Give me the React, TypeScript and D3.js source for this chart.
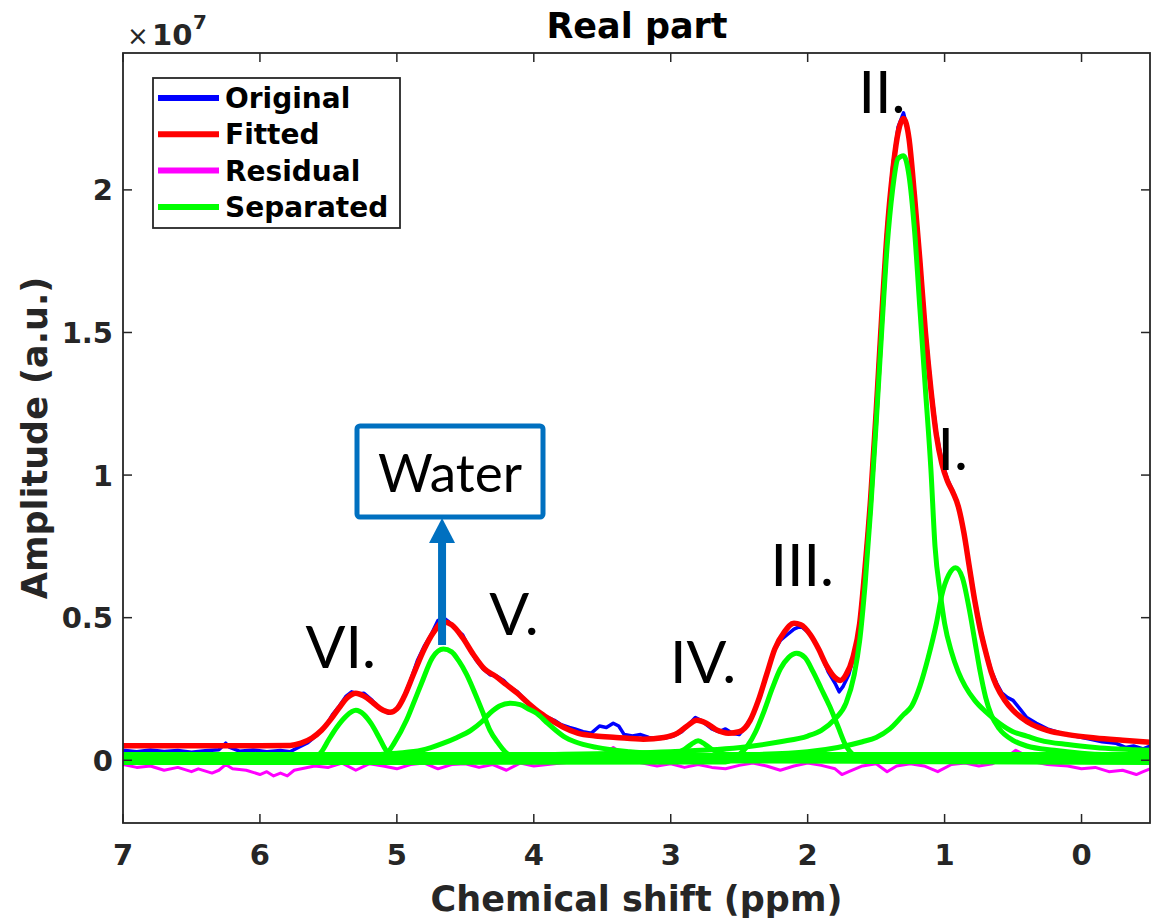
import React from 'react';
import * as d3 from 'd3';

// ---------- data (amplitude in units of 1e7, chemical shift in ppm) ----------
const xTicks = [7, 6, 5, 4, 3, 2, 1, 0];
const yTicks = [0, 0.5, 1, 1.5, 2];
const yTickLabels = ['0', '0.5', '1', '1.5', '2'];
const xDomain = [7, -0.5];
const yDomain = [-0.22, 2.48];

const fitted: [number, number][] = [
  [7.0, 0.051], [6.5, 0.051], [6.0, 0.051], [5.78, 0.052], [5.7, 0.06], [5.62, 0.078], [5.55, 0.105],
  [5.48, 0.145], [5.42, 0.185], [5.36, 0.22], [5.3, 0.235], [5.24, 0.225], [5.17, 0.2], [5.1, 0.175],
  [5.05, 0.168], [5.0, 0.18], [4.95, 0.22], [4.88, 0.3], [4.8, 0.39], [4.73, 0.45], [4.66, 0.485],
  [4.6, 0.475], [4.52, 0.43], [4.44, 0.37], [4.36, 0.32], [4.28, 0.295], [4.2, 0.265], [4.12, 0.235],
  [4.04, 0.2], [3.95, 0.165], [3.87, 0.14], [3.78, 0.115], [3.68, 0.095], [3.55, 0.085], [3.4, 0.08],
  [3.2, 0.074], [3.05, 0.08], [2.95, 0.095], [2.88, 0.12], [2.81, 0.14], [2.74, 0.13], [2.66, 0.105],
  [2.58, 0.095], [2.5, 0.1], [2.42, 0.14], [2.36, 0.21], [2.3, 0.3], [2.24, 0.39], [2.17, 0.45],
  [2.1, 0.48], [2.05, 0.475], [1.98, 0.44], [1.92, 0.39], [1.86, 0.33], [1.8, 0.29], [1.76, 0.28],
  [1.72, 0.3], [1.67, 0.36], [1.62, 0.48], [1.58, 0.68], [1.54, 0.92], [1.5, 1.22], [1.46, 1.55],
  [1.42, 1.85], [1.38, 2.06], [1.34, 2.2], [1.3, 2.25], [1.26, 2.18], [1.22, 1.98], [1.18, 1.75],
  [1.14, 1.5], [1.1, 1.3], [1.06, 1.14], [1.02, 1.04], [0.98, 0.98], [0.94, 0.94], [0.9, 0.89],
  [0.86, 0.8], [0.82, 0.68], [0.78, 0.56], [0.74, 0.46], [0.7, 0.38], [0.66, 0.31], [0.62, 0.26],
  [0.56, 0.21], [0.5, 0.175], [0.44, 0.15], [0.36, 0.125], [0.25, 0.105], [0.1, 0.09], [-0.1, 0.078],
  [-0.3, 0.07], [-0.5, 0.063],
];

const original: [number, number][] = [
  [7.0, 0.035], [6.9, 0.03], [6.8, 0.036], [6.7, 0.031], [6.6, 0.034], [6.5, 0.028], [6.4, 0.033],
  [6.3, 0.037], [6.25, 0.06], [6.22, 0.045], [6.15, 0.032], [6.05, 0.036], [5.95, 0.03], [5.85, 0.034],
  [5.78, 0.03], [5.72, 0.045], [5.65, 0.062], [5.58, 0.09], [5.52, 0.12], [5.47, 0.16], [5.42, 0.19],
  [5.37, 0.225], [5.33, 0.24], [5.28, 0.232], [5.24, 0.235], [5.18, 0.21], [5.12, 0.18], [5.06, 0.165],
  [5.01, 0.175], [4.96, 0.21], [4.9, 0.28], [4.85, 0.35], [4.8, 0.4], [4.75, 0.44], [4.7, 0.49],
  [4.66, 0.5], [4.62, 0.485], [4.57, 0.46], [4.52, 0.44], [4.47, 0.39], [4.42, 0.35], [4.37, 0.32],
  [4.32, 0.3], [4.27, 0.295], [4.22, 0.28], [4.17, 0.255], [4.12, 0.24], [4.07, 0.215], [4.02, 0.19],
  [3.96, 0.165], [3.9, 0.15], [3.85, 0.14], [3.8, 0.125], [3.74, 0.115], [3.7, 0.11], [3.64, 0.1],
  [3.58, 0.095], [3.52, 0.12], [3.47, 0.115], [3.42, 0.13], [3.38, 0.12], [3.34, 0.09], [3.28, 0.085],
  [3.22, 0.09], [3.16, 0.08], [3.1, 0.075], [3.04, 0.078], [2.98, 0.085], [2.92, 0.1], [2.86, 0.13],
  [2.82, 0.15], [2.78, 0.14], [2.74, 0.125], [2.7, 0.11], [2.65, 0.1], [2.6, 0.11], [2.55, 0.095],
  [2.5, 0.09], [2.45, 0.12], [2.4, 0.16], [2.35, 0.22], [2.3, 0.3], [2.25, 0.38], [2.2, 0.42],
  [2.15, 0.44], [2.1, 0.46], [2.05, 0.47], [2.0, 0.45], [1.95, 0.42], [1.9, 0.37], [1.85, 0.31],
  [1.8, 0.27], [1.77, 0.24], [1.74, 0.26], [1.7, 0.3], [1.66, 0.37], [1.62, 0.48], [1.58, 0.69],
  [1.54, 0.93], [1.5, 1.24], [1.46, 1.57], [1.42, 1.87], [1.38, 2.08], [1.34, 2.22], [1.3, 2.27],
  [1.26, 2.19], [1.22, 1.99], [1.18, 1.76], [1.14, 1.51], [1.1, 1.31], [1.06, 1.15], [1.02, 1.05],
  [0.98, 0.985], [0.94, 0.945], [0.9, 0.895], [0.86, 0.8], [0.82, 0.685], [0.78, 0.565], [0.74, 0.465],
  [0.7, 0.385], [0.66, 0.315], [0.62, 0.27], [0.58, 0.235], [0.54, 0.22], [0.5, 0.21], [0.45, 0.18],
  [0.4, 0.15], [0.33, 0.13], [0.25, 0.11], [0.15, 0.095], [0.05, 0.085], [-0.05, 0.075],
  [-0.15, 0.065], [-0.25, 0.06], [-0.32, 0.045], [-0.38, 0.05], [-0.45, 0.04], [-0.5, 0.05],
];

const residual: [number, number][] = [
  [7.0, -0.015], [6.9, -0.025], [6.8, -0.02], [6.7, -0.035], [6.6, -0.025], [6.5, -0.04], [6.45, -0.03],
  [6.35, -0.045], [6.3, -0.035], [6.25, -0.015], [6.2, -0.03], [6.1, -0.035], [6.0, -0.05], [5.95, -0.04],
  [5.9, -0.055], [5.85, -0.045], [5.8, -0.055], [5.75, -0.035], [5.6, -0.02], [5.5, -0.025], [5.4, -0.01],
  [5.3, -0.035], [5.2, -0.012], [5.1, -0.02], [5.0, -0.03], [4.9, -0.015], [4.8, -0.01], [4.7, -0.03],
  [4.6, -0.015], [4.5, -0.012], [4.4, -0.025], [4.3, -0.015], [4.2, -0.035], [4.1, -0.01], [4.0, -0.02],
  [3.9, -0.015], [3.8, -0.01], [3.7, -0.005], [3.6, 0.0], [3.5, 0.02], [3.42, 0.045], [3.35, 0.02],
  [3.25, -0.005], [3.1, -0.02], [3.0, -0.012], [2.9, -0.025], [2.8, -0.015], [2.7, -0.025], [2.6, -0.03],
  [2.5, -0.018], [2.4, -0.01], [2.3, -0.02], [2.2, -0.035], [2.1, -0.02], [2.0, -0.01], [1.9, -0.018],
  [1.8, -0.03], [1.75, -0.05], [1.7, -0.04], [1.6, -0.02], [1.5, -0.012], [1.42, -0.04], [1.35, -0.02],
  [1.25, -0.012], [1.15, -0.02], [1.05, -0.04], [0.95, -0.015], [0.85, -0.01], [0.75, -0.02],
  [0.65, -0.012], [0.55, 0.01], [0.48, 0.035], [0.42, 0.02], [0.35, -0.005], [0.25, -0.015], [0.1, -0.02],
  [0.0, -0.03], [-0.1, -0.025], [-0.2, -0.04], [-0.3, -0.035], [-0.4, -0.05], [-0.45, -0.04],
  [-0.5, -0.03],
];

const peakVI: [number, number][] = [
  [7.0, 0.002], [5.62, 0.004], [5.55, 0.03], [5.5, 0.07], [5.44, 0.115], [5.37, 0.155], [5.3, 0.175],
  [5.24, 0.16], [5.19, 0.13], [5.13, 0.08], [5.08, 0.035], [5.02, 0.01], [4.95, 0.002], [-0.5, 0.002],
];
const peakWater: [number, number][] = [
  [7.0, -0.004], [5.2, -0.003], [5.1, 0.01], [5.02, 0.06], [4.93, 0.14], [4.87, 0.21], [4.82, 0.27],
  [4.74, 0.36], [4.66, 0.39], [4.6, 0.38], [4.55, 0.35], [4.49, 0.3], [4.43, 0.235], [4.37, 0.165],
  [4.32, 0.105], [4.26, 0.06], [4.21, 0.03], [4.15, 0.01], [4.08, -0.002], [-0.5, -0.004],
];
const peakV: [number, number][] = [
  [7.0, 0.008], [6.0, 0.01], [5.5, 0.014], [5.2, 0.019], [5.0, 0.025], [4.82, 0.035], [4.66, 0.06],
  [4.56, 0.08], [4.46, 0.105], [4.38, 0.135], [4.32, 0.165], [4.25, 0.19], [4.17, 0.2], [4.1, 0.195],
  [4.04, 0.18], [3.98, 0.165], [3.9, 0.13], [3.84, 0.105], [3.77, 0.08], [3.7, 0.065], [3.54, 0.045],
  [3.3, 0.03], [3.0, 0.022], [2.5, 0.015], [1.5, 0.011], [-0.5, 0.008],
];
const peakIV: [number, number][] = [
  [7.0, 0.02], [3.05, 0.02], [2.96, 0.026], [2.9, 0.038], [2.85, 0.056], [2.8, 0.068], [2.75, 0.056],
  [2.7, 0.038], [2.64, 0.026], [2.55, 0.02], [-0.5, 0.02],
];
const peakIII: [number, number][] = [
  [7.0, -0.008], [2.6, -0.006], [2.5, 0.02], [2.44, 0.05], [2.38, 0.1], [2.32, 0.17], [2.26, 0.25],
  [2.2, 0.32], [2.14, 0.36], [2.08, 0.375], [2.02, 0.36], [1.96, 0.31], [1.9, 0.25], [1.84, 0.19],
  [1.78, 0.12], [1.72, 0.05], [1.66, 0.015], [1.58, -0.004], [-0.5, -0.008],
];
const peakII: [number, number][] = [
  [7.0, 0.012], [5.0, 0.015], [4.0, 0.02], [3.0, 0.03], [2.6, 0.04], [2.4, 0.05], [2.2, 0.065],
  [2.0, 0.085], [1.9, 0.105], [1.8, 0.145], [1.72, 0.2], [1.66, 0.3], [1.62, 0.42], [1.58, 0.62],
  [1.54, 0.88], [1.5, 1.18], [1.46, 1.5], [1.42, 1.8], [1.38, 2.0], [1.34, 2.11], [1.3, 2.12],
  [1.26, 2.05], [1.22, 1.86], [1.18, 1.58], [1.14, 1.3], [1.1, 1.02], [1.07, 0.75], [1.03, 0.58],
  [1.0, 0.48], [0.95, 0.38], [0.9, 0.31], [0.85, 0.26], [0.78, 0.21], [0.7, 0.17], [0.6, 0.13],
  [0.5, 0.1], [0.4, 0.085], [0.3, 0.07], [0.1, 0.055], [-0.1, 0.045], [-0.5, 0.035],
];
const peakI: [number, number][] = [
  [7.0, 0.005], [4.0, 0.008], [3.0, 0.012], [2.5, 0.018], [2.0, 0.03], [1.78, 0.045], [1.6, 0.065],
  [1.5, 0.08], [1.4, 0.11], [1.3, 0.16], [1.24, 0.19], [1.18, 0.26], [1.12, 0.36], [1.06, 0.48],
  [1.02, 0.58], [0.97, 0.65], [0.92, 0.675], [0.87, 0.64], [0.82, 0.53], [0.78, 0.42], [0.74, 0.31],
  [0.7, 0.22], [0.66, 0.16], [0.6, 0.11], [0.5, 0.07], [0.4, 0.05], [0.2, 0.035], [0.0, 0.025],
  [-0.5, 0.015],
];
const separated = [peakVI, peakWater, peakV, peakIV, peakIII, peakII, peakI];

const legendLabels = ['Original', 'Fitted', 'Residual', 'Separated'];
const legendColors = ['#0000FF', '#FF0000', '#FF00FF', '#00FF00'];

const peakLabels = ['VI.', 'V.', 'IV.', 'III.', 'II.', 'I.'];
const peakLabelPpm = [5.41, 4.145, 2.764, 2.04, 1.457, 0.94];
const peakLabelAmp = [0.323, 0.439, 0.27, 0.611, 2.27, 1.018];

const waterLabel = 'Water';
const waterPpm = 4.67;

// ---------- component ----------
export default function App() {
  const W = 1157, H = 923;
  const L = 123, R = 1150, T = 53, B = 823;
  const x = d3.scaleLinear().domain(xDomain).range([L, R]);
  const y = d3.scaleLinear().domain(yDomain).range([B, T]);
  const smooth = d3.line<[number, number]>().x(d => x(d[0])).y(d => y(d[1])).curve(d3.curveMonotoneX);
  const jagged = d3.line<[number, number]>().x(d => x(d[0])).y(d => y(d[1]));
  const axisColor = '#262626';
  const axisFont = '"DejaVu Sans", sans-serif';
  const annFont = 'Lato, "Open Sans", sans-serif';
  const blue = '#0070C0';
  const wx = x(waterPpm);

  return (
    <svg width={W} height={H} style={{ position: 'absolute', left: 0, top: 0, background: '#fff' }}>
      <defs>
        <clipPath id="plotClip">
          <rect x={L} y={T} width={R - L} height={B - T} />
        </clipPath>
      </defs>
      <rect x={0} y={0} width={W} height={H} fill="#fff" />

      {/* series */}
      <g clipPath="url(#plotClip)" fill="none" strokeLinejoin="round" strokeLinecap="round">
        <path d={jagged(original) || ''} stroke="#0000FF" strokeWidth={3.5} />
        <path d={smooth(fitted) || ''} stroke="#FF0000" strokeWidth={5.5} />
        <path d={jagged(residual) || ''} stroke="#FF00FF" strokeWidth={3} />
        {separated.map((s, i) => (
          <path key={i} d={smooth(s) || ''} stroke="#00FF00" strokeWidth={5} />
        ))}
      </g>

      {/* axes box */}
      <rect x={L} y={T} width={R - L} height={B - T} fill="none" stroke={axisColor} strokeWidth={1.8} />
      {xTicks.map(t => (
        <g key={'xt' + t}>
          <line x1={x(t)} x2={x(t)} y1={B} y2={B - 9} stroke={axisColor} strokeWidth={1.5} />
          <line x1={x(t)} x2={x(t)} y1={T} y2={T + 9} stroke={axisColor} strokeWidth={1.5} />
          <text x={x(t)} y={865} textAnchor="middle" fontFamily={axisFont} fontWeight="bold" fontSize={29} fill={axisColor}>
            {t}
          </text>
        </g>
      ))}
      {yTicks.map((t, i) => (
        <g key={'yt' + t}>
          <line x1={L} x2={L + 9} y1={y(t)} y2={y(t)} stroke={axisColor} strokeWidth={1.5} />
          <line x1={R} x2={R - 9} y1={y(t)} y2={y(t)} stroke={axisColor} strokeWidth={1.5} />
          <text x={113} y={y(t)} dy="0.36em" textAnchor="end" fontFamily={axisFont} fontWeight="bold" fontSize={29} fill={axisColor}>
            {yTickLabels[i]}
          </text>
        </g>
      ))}

      {/* exponent */}
      <text x={127} y={45} fontFamily={axisFont} fontSize={26} fill={axisColor}>×</text>
      <text x={152} y={45} fontFamily={axisFont} fontWeight="bold" fontSize={29} fill={axisColor}>10</text>
      <text x={193} y={29} fontFamily={axisFont} fontWeight="bold" fontSize={20} fill={axisColor}>7</text>

      {/* title and axis labels */}
      <text x={637} y={38} textAnchor="middle" fontFamily={axisFont} fontWeight="bold" fontSize={35} fill="#000">
        Real part
      </text>
      <text x={(L + R) / 2} y={911} textAnchor="middle" fontFamily={axisFont} fontWeight="bold" fontSize={35} fill={axisColor}>
        Chemical shift (ppm)
      </text>
      <text transform={`translate(47,${(T + B) / 2}) rotate(-90)`} textAnchor="middle" fontFamily={axisFont} fontWeight="bold" fontSize={35} fill={axisColor}>
        Amplitude (a.u.)
      </text>

      {/* legend */}
      <rect x={153} y={78} width={247} height={150} fill="#fff" stroke={axisColor} strokeWidth={1.8} />
      {legendLabels.map((lab, i) => (
        <g key={lab}>
          <line x1={158} x2={219} y1={98 + i * 36.3} y2={98 + i * 36.3} stroke={legendColors[i]} strokeWidth={6} />
          <text x={225} y={98 + i * 36.3} dy="0.36em" fontFamily={axisFont} fontWeight="bold" fontSize={28} fill="#000">
            {lab}
          </text>
        </g>
      ))}

      {/* peak labels */}
      {peakLabels.map((lab, i) => (
        <text key={lab} x={x(peakLabelPpm[i])} y={y(peakLabelAmp[i])} textAnchor="middle" fontFamily={annFont} fontSize={59} fill="#000">
          {lab}
        </text>
      ))}

      {/* water annotation */}
      <rect x={357} y={426} width={186} height={91} rx={3} fill="#fff" stroke={blue} strokeWidth={5} />
      <text x={450} y={492} textAnchor="middle" fontFamily={annFont} fontSize={53} fill="#000">
        {waterLabel}
      </text>
      <line x1={wx} x2={wx} y1={645} y2={540} stroke={blue} strokeWidth={8} />
      <path d={`M${wx - 13},543 L${wx + 13},543 L${wx},518 Z`} fill={blue} />
    </svg>
  );
}
